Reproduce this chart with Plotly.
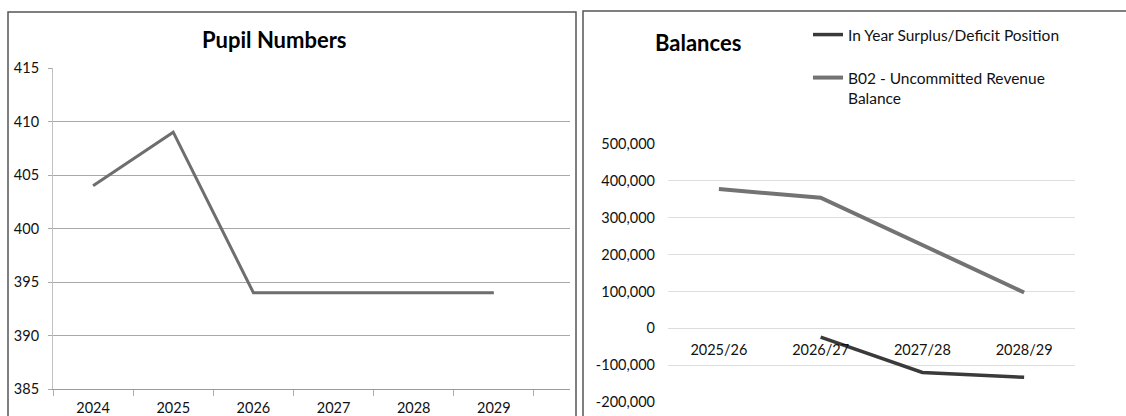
import plotly.graph_objects as go

# ---- data ----
pupil_years = ["2024", "2025", "2026", "2027", "2028", "2029"]
pupil_numbers = [404, 409, 394, 394, 394, 394]
pupil_yticks = [385, 390, 395, 400, 405, 410, 415]

bal_years = ["2025/26", "2026/27", "2027/28", "2028/29"]
in_year_surplus = [None, -24000, -120000, -133000]
b02_uncommitted = [378000, 354000, 226000, 97000]
bal_yticks = [-200000, -100000, 0, 100000, 200000, 300000, 400000, 500000]
bal_yticklabels = ["-200,000", "-100,000", "0", "100,000", "200,000", "300,000", "400,000", "500,000"]

W, H = 1126, 416
FONT = "Lato"

def px_x(p):
    return p / W

def px_y(p):
    return 1 - p / H

fig = go.Figure()

fig.add_trace(go.Scatter(
    x=pupil_years, y=pupil_numbers, mode="lines",
    line=dict(color="#6e6e6e", width=3), showlegend=False,
    xaxis="x", yaxis="y",
))

fig.add_trace(go.Scatter(
    x=bal_years, y=in_year_surplus, mode="lines",
    name="In Year Surplus/Deficit Position",
    line=dict(color="#3a3a3a", width=3.5),
    xaxis="x2", yaxis="y2", legend="legend",
))
fig.add_trace(go.Scatter(
    x=bal_years, y=b02_uncommitted, mode="lines",
    name="B02 - Uncommitted Revenue<br>Balance",
    line=dict(color="#737373", width=4),
    xaxis="x2", yaxis="y2", legend="legend2",
))

# right chart geometry
y2_dom = [px_y(402), px_y(144)]
y2_range = [-200000, 500000]
zero_pos = y2_dom[0] + (0 - y2_range[0]) / (y2_range[1] - y2_range[0]) * (y2_dom[1] - y2_dom[0])

tickfont = dict(family=FONT, size=14.5, color="#111")
legfont = dict(family=FONT, size=15.5, color="#111")

fig.update_layout(
    width=W, height=H,
    margin=dict(l=0, r=0, t=0, b=0, pad=0),
    paper_bgcolor="white", plot_bgcolor="white",
    font=dict(family=FONT, size=14, color="#111"),
    xaxis=dict(
        domain=[px_x(53), px_x(570)], type="category",
        range=[-0.5, 5.95], showgrid=False,
        showline=True, linecolor="#9a9a9a", linewidth=1,
        ticks="outside", tickson="boundaries", ticklen=6, tickcolor="#b0b0b0",
        tickfont=tickfont, ticklabelstandoff=6,
        anchor="y", automargin=False,
    ),
    yaxis=dict(
        domain=[px_y(389), px_y(68)], range=[385, 415],
        tickvals=pupil_yticks, showgrid=True, gridcolor="#a8a8a8", gridwidth=1,
        zeroline=False, showline=True, linecolor="#c0c0c0",
        ticks="outside", ticklen=4, tickcolor="#a8a8a8",
        tickfont=tickfont, ticklabelstandoff=6, anchor="x", automargin=False,
    ),
    xaxis2=dict(
        domain=[px_x(668), px_x(1075)], type="category",
        range=[-0.5, 3.5], showgrid=False,
        showline=True, linecolor="#dcdcdc", linewidth=1,
        ticks="", tickfont=tickfont, ticklabelstandoff=8,
        anchor="free", position=zero_pos, automargin=False,
    ),
    yaxis2=dict(
        domain=y2_dom, range=y2_range,
        tickvals=bal_yticks, ticktext=bal_yticklabels,
        showgrid=True, gridcolor="#dedede", gridwidth=1,
        zeroline=False, showline=False, ticks="",
        tickfont=tickfont, ticklabelstandoff=12, anchor="x2", automargin=False,
    ),
    legend=dict(
        x=px_x(808), y=px_y(18), xanchor="left", yanchor="top",
        bgcolor="rgba(0,0,0,0)", font=legfont, itemwidth=30, valign="top",
    ),
    legend2=dict(
        x=px_x(808), y=px_y(61), xanchor="left", yanchor="top",
        bgcolor="rgba(0,0,0,0)", font=legfont, itemwidth=30, valign="top",
    ),
    annotations=[
        dict(text="<b>Pupil Numbers</b>", x=px_x(274), y=px_y(39), xref="paper", yref="paper",
             xanchor="center", yanchor="middle", showarrow=False,
             font=dict(family=FONT, size=22, color="#000")),
        dict(text="<b>Balances</b>", x=px_x(698), y=px_y(43), xref="paper", yref="paper",
             xanchor="center", yanchor="middle", showarrow=False,
             font=dict(family=FONT, size=22, color="#000")),
    ],
    shapes=[
        dict(type="rect", xref="paper", yref="paper", x0=px_x(8), x1=px_x(576), y0=-0.05, y1=px_y(12),
             line=dict(color="#555", width=1.5)),
        dict(type="rect", xref="paper", yref="paper", x0=px_x(583), x1=1.01, y0=-0.05, y1=px_y(11),
             line=dict(color="#555", width=1.5)),
    ],
)

fig.write_html("out.html", config={"displayModeBar": False},
               post_script="document.body.style.margin='0px';")
